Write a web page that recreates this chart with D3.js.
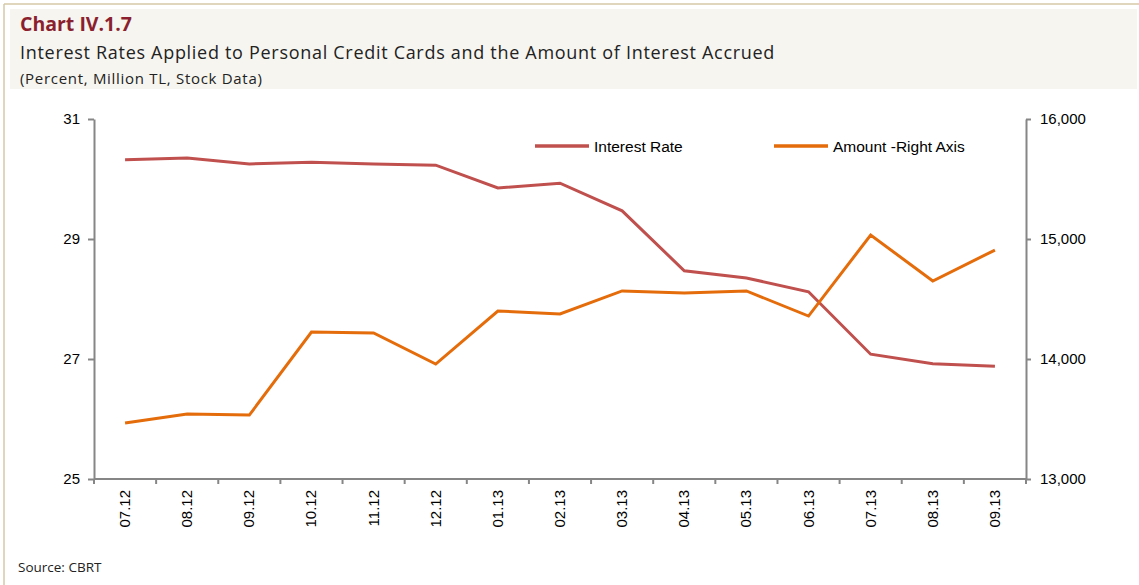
<!DOCTYPE html>
<html>
<head>
<meta charset="utf-8">
<script src="https://cdn.jsdelivr.net/npm/d3@7"></script>
<style>
  body { margin: 0; background: #fff; }
  svg { display: block; }
  .axis text { font-family: "Liberation Sans", Arial, sans-serif; font-size: 15px; fill: #000; }
  .axis path, .axis line { stroke: #868686; stroke-width: 2; }
</style>
</head>
<body>
<div id="plot-container"></div>
<script>
const months = ["07.12", "08.12", "09.12", "10.12", "11.12", "12.12", "01.13", "02.13",
    "03.13", "04.13", "05.13", "06.13", "07.13", "08.13", "09.13"];
const interestRate = [30.32, 30.35, 30.25, 30.28, 30.25, 30.23, 29.85, 29.93,
    29.47, 28.47, 28.35, 28.12, 27.08, 26.92, 26.88];
const amount = [13467, 13542, 13533, 14225, 14217, 13958, 14400, 14375,
    14567, 14550, 14567, 14358, 15033, 14650, 14908];
const leftTicks = [25, 27, 29, 31];
const rightTicks = [13000, 14000, 15000, 16000];

const W = 1139, H = 585;
const margin = { top: 119, right: 113, bottom: 105, left: 94 };
const width = W - margin.left - margin.right;
const height = H - margin.top - margin.bottom - 1;

const root = d3.select("#plot-container")
    .append("svg")
    .attr("width", W)
    .attr("height", H);

// frame and header box
root.append("line").attr("x1", 4).attr("x2", W).attr("y1", 4).attr("y2", 4)
    .attr("stroke", "#d6c8a8").attr("stroke-width", 1.5);
root.append("line").attr("x1", 4).attr("x2", 4).attr("y1", 4).attr("y2", H)
    .attr("stroke", "#d6c8a8").attr("stroke-width", 1.5);
root.append("rect").attr("x", 10).attr("y", 9).attr("width", W - 12).attr("height", 80)
    .attr("fill", "#f6f5f0");

root.append("text").attr("x", 20).attr("y", 31)
    .style("font-family", "'Open Sans', sans-serif").style("font-weight", "bold")
    .style("font-size", "19.5px").attr("fill", "#8b1f2e")
    .text("Chart IV.1.7");
root.append("text").attr("x", 20).attr("y", 59)
    .style("font-family", "'Open Sans', sans-serif").style("font-size", "18px")
    .style("letter-spacing", "0.7px")
    .attr("fill", "#222")
    .text("Interest Rates Applied to Personal Credit Cards and the Amount of Interest Accrued");
root.append("text").attr("x", 20).attr("y", 84)
    .style("font-family", "'Open Sans', sans-serif").style("font-size", "15px")
    .style("letter-spacing", "0.7px")
    .attr("fill", "#222")
    .text("(Percent, Million TL, Stock Data)");
root.append("text").attr("x", 18).attr("y", 572)
    .style("font-family", "'Open Sans', sans-serif").style("font-size", "13.5px")
    .attr("fill", "#222")
    .text("Source: CBRT");

const svg = root.append("g")
    .attr("transform", "translate(" + margin.left + "," + margin.top + ")");

const x = d3.scaleBand().domain(months).range([0, width]);
const yL = d3.scaleLinear().domain([25, 31]).range([height, 0]);
const yR = d3.scaleLinear().domain([13000, 16000]).range([height, 0]);

// x axis with ticks between categories
const xAxis = svg.append("g")
    .attr("class", "axis")
    .attr("transform", "translate(0," + height + ")");
xAxis.append("line").attr("x1", 0).attr("x2", width).attr("y1", 0).attr("y2", 0);
xAxis.selectAll("line.tick")
    .data(d3.range(months.length + 1))
    .enter()
    .append("line")
    .attr("class", "tick")
    .attr("x1", i => i * x.step()).attr("x2", i => i * x.step())
    .attr("y1", 0).attr("y2", 5);
xAxis.selectAll("text")
    .data(months)
    .enter()
    .append("text")
    .attr("transform", d => "translate(" + (x(d) + x.bandwidth() / 2 + 5) + ",11) rotate(-90)")
    .attr("text-anchor", "end")
    .text(d => d);

svg.append("g")
    .attr("class", "axis")
    .call(d3.axisLeft(yL).tickValues(leftTicks).tickSize(6).tickSizeOuter(0).tickPadding(8)
        .tickFormat(d3.format("d")));

svg.append("g")
    .attr("class", "axis")
    .attr("transform", "translate(" + width + ",0)")
    .call(d3.axisRight(yR).tickValues(rightTicks).tickSize(5).tickSizeOuter(0)
        .tickPadding(9).tickFormat(d3.format(",")));

const cx = d => x(d) + x.bandwidth() / 2;

svg.append("path")
    .datum(months.map((m, i) => [m, interestRate[i]]))
    .attr("fill", "none")
    .attr("stroke", "#c0504d")
    .attr("stroke-width", 3)
    .attr("d", d3.line().x(d => cx(d[0])).y(d => yL(d[1])));

svg.append("path")
    .datum(months.map((m, i) => [m, amount[i]]))
    .attr("fill", "none")
    .attr("stroke", "#e46c0a")
    .attr("stroke-width", 3)
    .attr("d", d3.line().x(d => cx(d[0])).y(d => yR(d[1])));

// legend
const legend = [
    { name: "Interest Rate", color: "#c0504d", x: 535 },
    { name: "Amount -Right Axis", color: "#e46c0a", x: 774 }
];
const lg = root.selectAll("g.legend")
    .data(legend)
    .enter()
    .append("g")
    .attr("class", "legend")
    .attr("transform", d => "translate(" + d.x + ",146)");
lg.append("line").attr("x1", 0).attr("x2", 54).attr("y1", 0).attr("y2", 0)
    .attr("stroke", d => d.color).attr("stroke-width", 3.5);
lg.append("text").attr("x", 59).attr("y", 5.5)
    .style("font-family", "'Liberation Sans', Arial, sans-serif").style("font-size", "15.5px")
    .text(d => d.name);
</script>
</body>
</html>
